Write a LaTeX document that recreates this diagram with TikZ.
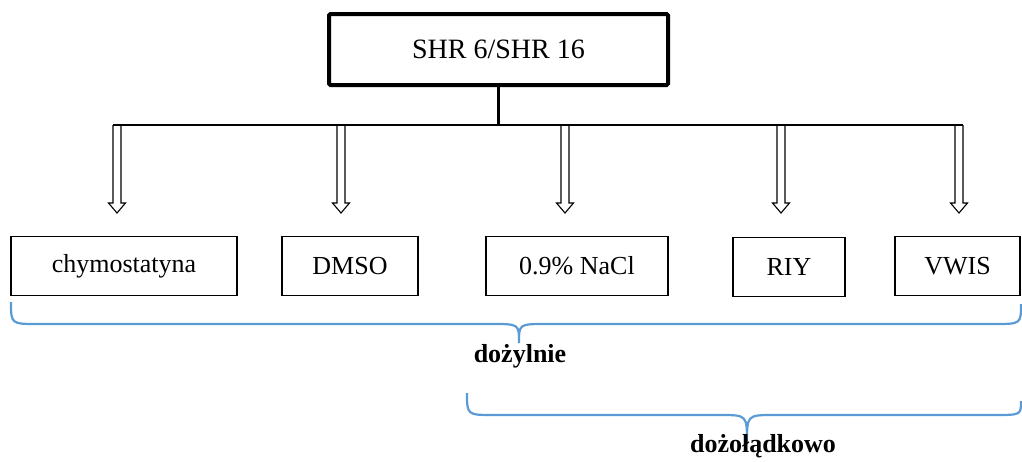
\documentclass[tikz,border=0pt]{standalone}
\usepackage{fontspec}
\setmainfont{Liberation Serif}
\definecolor{braceblue}{HTML}{5B9BD5}
\begin{document}
\begin{tikzpicture}[x=1pt,y=-1pt,
  topbox/.style={draw, line width=4pt, rounded corners=1.5pt, minimum width=339pt, minimum height=71pt, inner sep=0pt, font=\fontsize{28}{32}\selectfont},
  leafbox/.style={draw, line width=1.5pt, minimum height=59pt, inner sep=0pt, font=\fontsize{26}{30}\selectfont},
  bus/.style={line width=2.3pt},
  bracestyle/.style={draw=braceblue, line width=2.2pt},
  lab/.style={font=\fontsize{26}{30}\selectfont\bfseries},
  hollowarrow/.pic={\draw[line width=1.1pt, fill=white, line join=miter] (-4,0) -- (-4,78) -- (-8.5,78) -- (0,88) -- (8.5,78) -- (4,78) -- (4,0);}
]
\useasboundingbox (0,0) rectangle (1022,461);

\node[topbox] (top) at (498.5,49.5) {SHR 6/SHR 16};

\node[leafbox, minimum width=226pt] (chym) at (124,266) {chymostatyna};
\node[leafbox, minimum width=136pt] (dmso) at (350,266) {DMSO};
\node[leafbox, minimum width=182pt] (nacl) at (577,266) {0.9\% NaCl};
\node[leafbox, minimum width=112pt] (riy) at (789,267) {RIY};
\node[leafbox, minimum width=125pt] (vwis) at (957.5,266) {VWIS};

\coordinate (b1) at (117,125);
\coordinate (b2) at (341,125);
\coordinate (b3) at (565,125);
\coordinate (b4) at (781,125);
\coordinate (b5) at (959,125);
\coordinate (bm) at (top.south |- b1);

\foreach \c in {b1,b2,b3,b4,b5} { \pic at (\c) {hollowarrow}; }

\draw[bus] (top.south) -- (bm);
\draw[bus] ([xshift=-4pt]b1) -- ([xshift=4pt]b5);

% braces
\coordinate (br1a) at (11,302);
\coordinate (br1m) at (519,343);
\coordinate (br1b) at (1021,304);
\draw[bracestyle] (br1a) .. controls (11,324) .. (38,324) -- (492,324) .. controls (519,324) .. (br1m)
  (br1m) .. controls (519,324) .. (546,324) -- (994,324) .. controls (1021,324) .. (br1b);
\node[lab] (iv) at (520,356) {dożylnie};

\coordinate (br2a) at (467,393);
\coordinate (br2m) at (747,443);
\coordinate (br2b) at (1021,401);
\draw[bracestyle] (br2a) .. controls (467,415) .. (494,415) -- (720,415) .. controls (747,415) .. (br2m)
  (br2m) .. controls (747,415) .. (774,415) -- (994,415) .. controls (1021,415) .. (br2b);
\node[lab] (po) at (763,446) {dożołądkowo};
\end{tikzpicture}
\end{document}
